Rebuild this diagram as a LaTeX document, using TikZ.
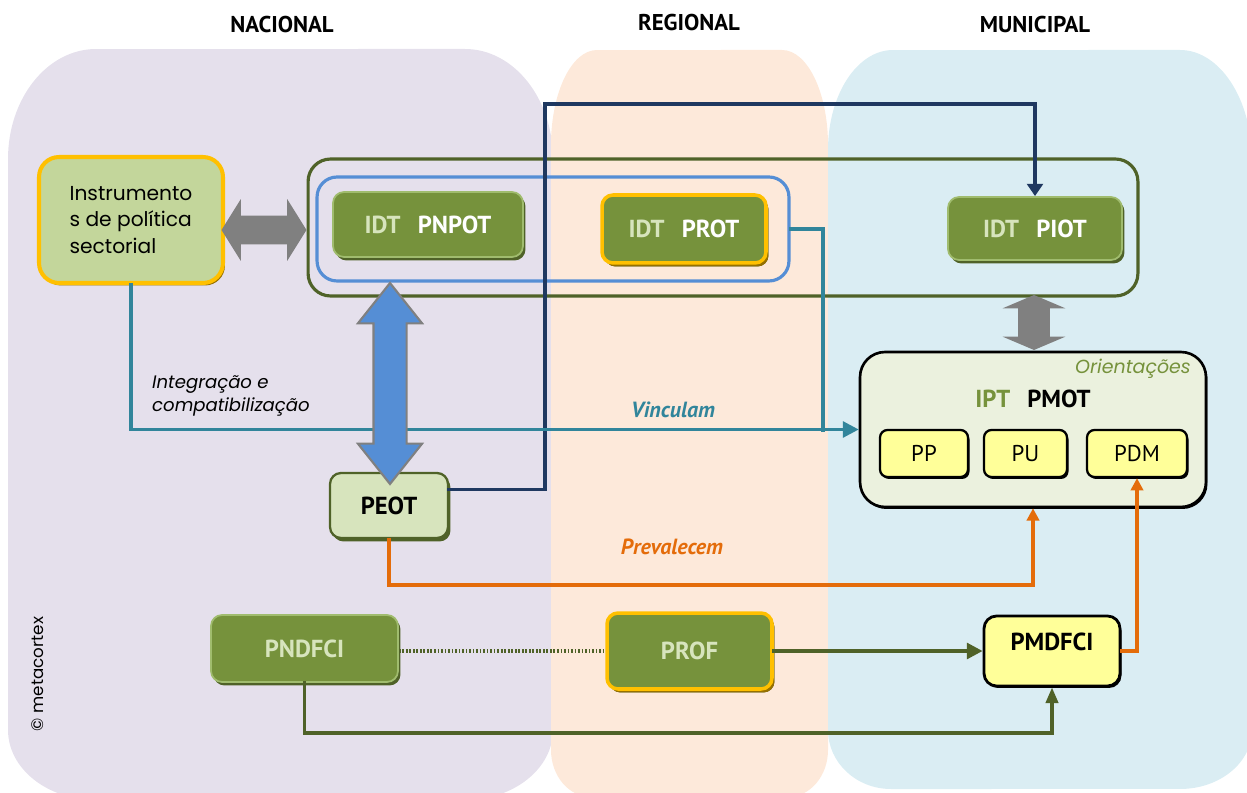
\documentclass[tikz,border=0pt]{standalone}
\usepackage{fontspec}
\setmainfont{Poppins}
\newfontfamily\cnd{PT Sans}
\usetikzlibrary{shapes.arrows,arrows.meta,shadows,calc}
\definecolor{lane_nac}{RGB}{229,224,236}
\definecolor{lane_reg}{RGB}{253,233,218}
\definecolor{lane_mun}{RGB}{218,237,243}
\definecolor{idt_olive}{RGB}{118,146,60}
\definecolor{idt_dark}{RGB}{79,98,40}
\definecolor{idt_lite}{RGB}{215,228,189}
\definecolor{idt_edge}{RGB}{160,188,110}
\definecolor{ins_green}{RGB}{195,214,155}
\definecolor{gold}{RGB}{255,192,0}
\definecolor{gold_dark}{RGB}{150,112,0}
\definecolor{grp_blue}{RGB}{85,142,213}
\definecolor{navy}{RGB}{31,56,96}
\definecolor{teal_line}{RGB}{49,133,155}
\definecolor{orange_line}{RGB}{228,108,10}
\definecolor{pmot_fill}{RGB}{235,241,222}
\definecolor{sub_yellow}{RGB}{255,255,153}
\definecolor{arr_gray}{RGB}{128,128,128}
\tikzstyle{hd}=[font=\cnd\fontsize{13}{15}\selectfont\bfseries,text=black]
\tikzstyle{idt}=[rectangle,rounded corners=0.22cm,fill=idt_olive,draw=idt_edge,
  line width=1pt,inner sep=0pt,font=\cnd\fontsize{14}{16}\selectfont\bfseries,text=idt_lite,
  drop shadow={shadow xshift=0.05cm,shadow yshift=-0.07cm,fill=idt_dark,opacity=1}]
\tikzstyle{idtg}=[idt,draw=gold,line width=2pt,
  drop shadow={shadow xshift=0.05cm,shadow yshift=-0.07cm,fill=gold_dark,opacity=1}]
\tikzstyle{sub}=[rectangle,rounded corners=0.15cm,fill=sub_yellow,draw=black,
  line width=1.3pt,inner sep=0pt,font=\cnd\fontsize{13}{15}\selectfont,
  drop shadow={shadow xshift=0.03cm,shadow yshift=-0.04cm,fill=black,opacity=1}]
\tikzstyle{grp}=[rectangle,rounded corners=0.45cm,line width=1.8pt,inner sep=0pt]
\tikzstyle{sarr}=[double arrow,inner xsep=0pt,fill=arr_gray]
\tikzstyle{cn}=[line width=1.8pt,line cap=rect]
\begin{document}
\begin{tikzpicture}[x=0.02cm,y=-0.02cm]
    \useasboundingbox (0,0) rectangle (1247,793);
    \fill[lane_nac] (8,730) -- (8,159) arc[start angle=180,end angle=90,x radius=1.76cm,y radius=2.2cm]
      -- (465,49) arc[start angle=90,end angle=0,x radius=1.76cm,y radius=2.2cm]
      -- (553,730) arc[start angle=0,end angle=-90,x radius=1.76cm,y radius=1.4cm]
      -- (96,800) arc[start angle=-90,end angle=-180,x radius=1.76cm,y radius=1.4cm] -- cycle;
    \fill[lane_reg] (551,750) -- (551,145) arc[start angle=180,end angle=90,x radius=0.92cm,y radius=1.9cm]
      -- (782,50) arc[start angle=90,end angle=0,x radius=0.92cm,y radius=1.9cm]
      -- (828,750) arc[start angle=0,end angle=-90,x radius=0.8cm,y radius=0.94cm]
      -- (591,797) arc[start angle=-90,end angle=-180,x radius=0.8cm,y radius=0.94cm] -- cycle;
    \fill[lane_mun] (828,730) -- (828,150) arc[start angle=180,end angle=90,x radius=1.3cm,y radius=2cm]
      -- (1180,50) arc[start angle=90,end angle=0,x radius=1.44cm,y radius=2.2cm]
      -- (1252,730) arc[start angle=0,end angle=-90,x radius=1.44cm,y radius=1.18cm]
      -- (891,789) arc[start angle=-90,end angle=-180,x radius=1.26cm,y radius=1.18cm] -- cycle;
    \node[hd] (nac) at (282,25) {NACIONAL};
    \node[hd] (reg) at (689,23) {REGIONAL};
    \node[hd] (mun) at (1035,25) {MUNICIPAL};
    \node[grp,draw=idt_dark,minimum width=16.6cm,minimum height=2.74cm] (grp) at (723,227.5) {};
    \node[grp,draw=grp_blue,rounded corners=0.4cm,minimum width=9.44cm,minimum height=2.08cm] (blu) at (553,229) {};
    \node[rectangle,rounded corners=0.4cm,fill=ins_green,draw=gold,line width=2.3pt,inner sep=0pt,
      minimum width=3.68cm,minimum height=2.52cm,align=left,font=\fontsize{11.5}{15.3}\selectfont,
      drop shadow={shadow xshift=0.04cm,shadow yshift=-0.05cm,fill=gold_dark,opacity=1}]
      (inst) at (131,220) {Instrumento\\s de política\\sectorial};
    \node[idt,minimum width=3.8cm,minimum height=1.3cm] (pnpot) at (428,224.5) {IDT\hspace{0.7em}\textcolor{white}{PNPOT}};
    \node[idtg,minimum width=3.28cm,minimum height=1.36cm] (prot) at (684,229) {IDT\hspace{0.7em}\textcolor{white}{PROT}};
    \node[idt,minimum width=3.48cm,minimum height=1.26cm] (piot) at (1035,228.5) {IDT\hspace{0.7em}\textcolor{white}{PIOT}};
    \node[rectangle,rounded corners=0.5cm,fill=pmot_fill,draw=black,line width=1.5pt,
      minimum width=6.92cm,minimum height=3.1cm,
      drop shadow={shadow xshift=0.03cm,shadow yshift=-0.04cm,fill=black,opacity=1}] (pmot) at (1033,429.5) {};
    \node[font=\itshape\fontsize{10.8}{13}\selectfont,text=idt_olive] (orient) at (1133,369) {Orientações};
    \node[font=\cnd\fontsize{14}{16}\selectfont\bfseries] (ipt) at (1033,399) {\textcolor{idt_olive}{IPT}\hspace{0.7em}PMOT};
    \node[sub,minimum width=1.76cm,minimum height=0.94cm] (pp) at (924,453.5) {PP};
    \node[sub,minimum width=1.66cm,minimum height=0.94cm] (pu) at (1025.5,453.5) {PU};
    \node[sub,minimum width=2cm,minimum height=0.94cm] (pdm) at (1137,453.5) {PDM};
    \node[idt,fill=idt_lite,draw=idt_dark,line width=1.3pt,text=black,minimum width=2.36cm,minimum height=1.3cm] (peot) at (389,505.5) {PEOT};
    \node[idt,minimum width=3.74cm,minimum height=1.34cm] (pndfci) at (304.5,648.5) {PNDFCI};
    \node[idtg,minimum width=3.3cm,minimum height=1.52cm] (prof) at (689.5,651) {PROF};
    \node[sub,rounded corners=0.25cm,line width=1.6pt,font=\cnd\fontsize{14}{16}\selectfont\bfseries,
      minimum width=2.72cm,text height=0.68cm,text depth=0.72cm] (pmdfci) at (1052,651) {PMDFCI};
    \node[font=\itshape\fontsize{10.3}{13}\selectfont,align=left,anchor=west] (integ) at (146,396) {Integração e\\compatibilização};
    \node[font=\cnd\fontsize{12.5}{14}\selectfont\bfseries\itshape,text=teal_line] (vinc) at (673,410) {Vinculam};
    \node[font=\cnd\fontsize{12.5}{14}\selectfont\bfseries\itshape,text=orange_line] (prev) at (672,547) {Prevalecem};
    \node[font=\fontsize{9.5}{11}\selectfont,rotate=90] (meta) at (38,674) {© metacortex};
    \coordinate (nvy) at (545,104);
    \coordinate (tj) at (823,430);
    \coordinate (org) at (700,585);
    \coordinate (olb) at (700,733);
    \draw[cn,navy,line width=2pt,-{Triangle[length=7pt,width=9pt]}] ([yshift=0.32cm]peot.east) -| (nvy) -| (piot.north);
    \draw[cn,teal_line,-{Triangle[length=9pt,width=9pt]}] (inst.south) |- (pmot.west);
    \draw[cn,teal_line] (blu.east) -| (tj);
    \draw[cn,orange_line,-{Triangle[length=7pt,width=7pt]}] (peot.south) |- (org) -| (pmot.south);
    \draw[cn,orange_line,-{Triangle[length=7pt,width=7pt]}] (pmdfci.east) -| (pdm.south);
    \draw[idt_dark,line width=2.5pt,dash pattern=on 1pt off 1pt] (pndfci.east |- prof.west) -- (prof.west);
    \draw[cn,idt_dark,line width=2pt,-{Triangle[length=9pt,width=9pt]}] (prof.east) -- (pmdfci.west);
    \draw[cn,idt_dark,line width=2pt,-{Triangle[length=9pt,width=7pt]}] (pndfci.south) |- (olb) -| (pmdfci.south);
    \node[sarr,minimum height=1.7cm,inner ysep=0.28cm,minimum width=1.22cm,
      double arrow head extend=0.33cm,double arrow tip angle=116] (harr) at (264,230) {};
    \node[sarr,rotate=90,fill=grp_blue,draw=arr_gray,line width=1.2pt,minimum height=4.02cm,inner ysep=0.31cm,
      minimum width=1.24cm,double arrow head extend=0.31cm,double arrow tip angle=77] (barr) at (390,383.5) {};
    \node[sarr,rotate=90,minimum height=1.1cm,inner ysep=0.31cm,minimum width=1.24cm,
      double arrow head extend=0.31cm,double arrow tip angle=134] (varr) at (1034,322.5) {};
\end{tikzpicture}
\end{document}
